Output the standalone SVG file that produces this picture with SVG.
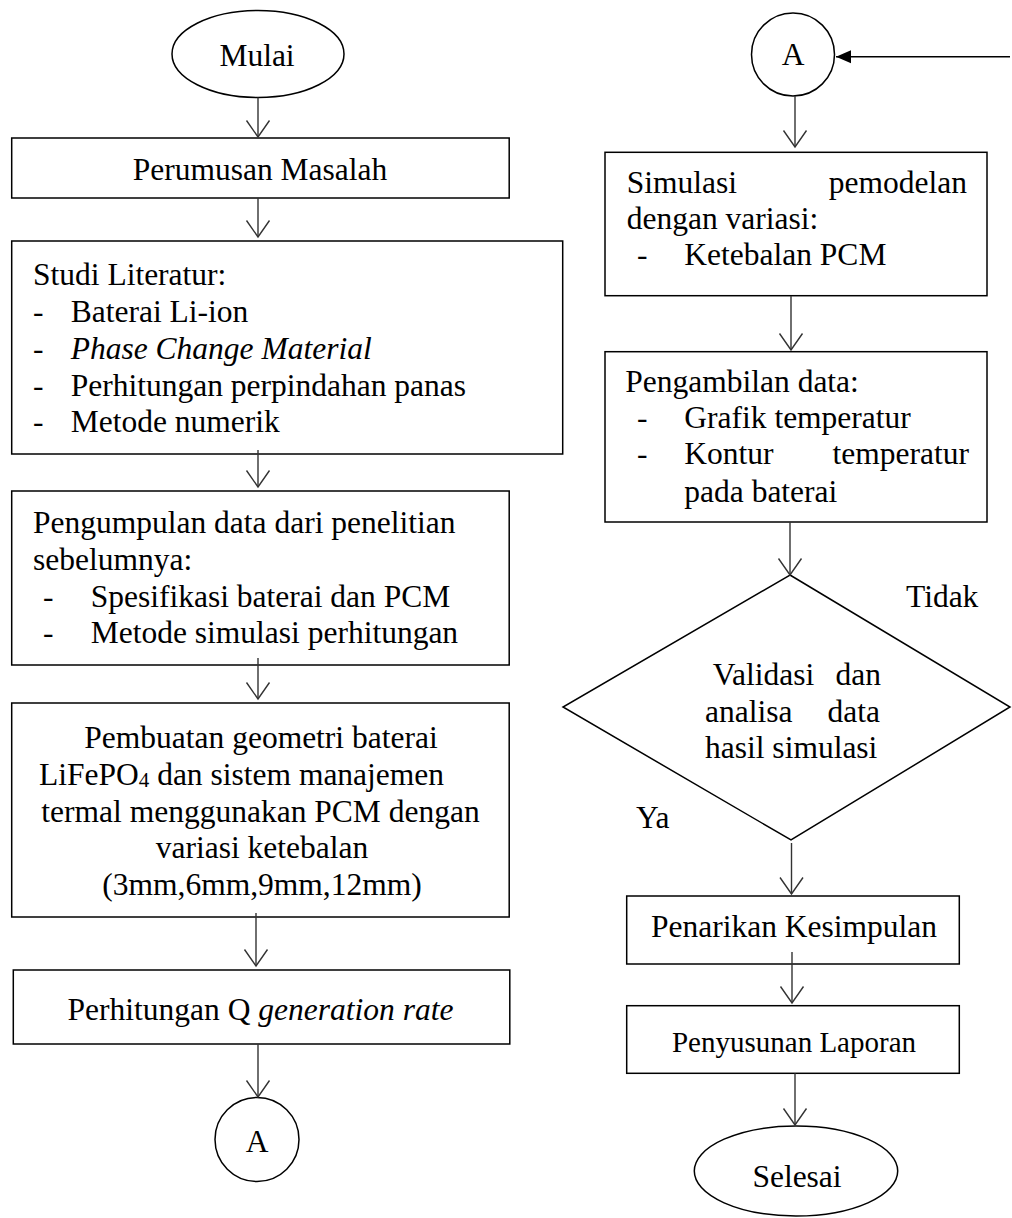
<svg xmlns="http://www.w3.org/2000/svg" width="1012" height="1218" viewBox="0 0 1012 1218">
<defs>
<marker id="open" viewBox="-18 -13 20 26" markerWidth="20" markerHeight="26" refX="0" refY="0" orient="auto" markerUnits="userSpaceOnUse">
<path d="M-16.5,-11.5 L0,0 L-16.5,11.5" fill="none" stroke="#333" stroke-width="1.4"/>
</marker>
<marker id="solid" viewBox="-16 -8 17 16" markerWidth="17" markerHeight="16" refX="0" refY="0" orient="auto" markerUnits="userSpaceOnUse">
<path d="M-15,-6.5 L0,0 L-15,6.5 Z" fill="#000"/>
</marker>
</defs>
<style>
.box{fill:#fff;stroke:#000;stroke-width:1.5}
.t{font-family:"Liberation Serif","Times New Roman",serif;font-size:31.5px;fill:#000}
.c{text-anchor:middle}
.e{text-anchor:end}
.i{font-style:italic}
.conn{stroke:#333;stroke-width:1.4;fill:none;marker-end:url(#open)}
.conns{stroke:#000;stroke-width:1.5;fill:none;marker-end:url(#solid)}
</style>
<rect width="1012" height="1218" fill="#fff"/>

<g id="mulai">
<ellipse class="box" cx="258" cy="54" rx="86" ry="43.5"/>
<text class="t c" x="257" y="66">Mulai</text>
</g>

<g id="perumusan">
<rect class="box" x="11.7" y="138" width="497.5" height="60"/>
<text class="t c" x="260" y="180">Perumusan Masalah</text>
</g>

<g id="studi">
<rect class="box" x="11.7" y="241" width="551" height="213"/>
<text class="t" x="33" y="285">Studi Literatur:</text>
<text class="t" x="33" y="322">-</text><text class="t" x="70.7" y="322">Baterai Li-ion</text>
<text class="t" x="33" y="359">-</text><text class="t i" x="70.7" y="359">Phase Change Material</text>
<text class="t" x="33" y="396">-</text><text class="t" x="70.7" y="396">Perhitungan perpindahan panas</text>
<text class="t" x="33" y="432">-</text><text class="t" x="70.7" y="432">Metode numerik</text>
</g>

<g id="pengumpulan">
<rect class="box" x="11.7" y="491" width="497.5" height="174"/>
<text class="t" x="33" y="533">Pengumpulan data dari penelitian</text>
<text class="t" x="33" y="570">sebelumnya:</text>
<text class="t" x="43" y="607">-</text><text class="t" x="90.7" y="607">Spesifikasi baterai dan PCM</text>
<text class="t" x="43" y="643">-</text><text class="t" x="90.7" y="643">Metode simulasi perhitungan</text>
</g>

<g id="pembuatan">
<rect class="box" x="11.7" y="703" width="497.5" height="214"/>
<text class="t c" x="261" y="748">Pembuatan geometri baterai</text>
<text class="t" x="39" y="785">LiFePO<tspan font-size="21" dy="2">4</tspan><tspan dy="-2"> dan sistem manajemen</tspan></text>
<text class="t c" x="260.5" y="822">termal menggunakan PCM dengan</text>
<text class="t c" x="262" y="858">variasi ketebalan</text>
<text class="t c" x="262" y="895">(3mm,6mm,9mm,12mm)</text>
</g>

<g id="perhitungan-q">
<rect class="box" x="13.3" y="970" width="496.5" height="74"/>
<text class="t c" x="260.5" y="1020">Perhitungan Q <tspan class="i">generation rate</tspan></text>
</g>

<g id="konektor-a1">
<circle class="box" cx="257" cy="1139.5" r="42"/>
<text class="t c" x="257" y="1152">A</text>
</g>

<g id="konektor-a2">
<circle class="box" cx="793" cy="54.5" r="41.5"/>
<text class="t c" x="793" y="65">A</text>
</g>

<g id="simulasi">
<rect class="box" x="605" y="152.3" width="382" height="143.4"/>
<text class="t" x="626.7" y="193">Simulasi</text><text class="t e" x="967" y="193">pemodelan</text>
<text class="t" x="626.7" y="229">dengan variasi:</text>
<text class="t" x="637" y="265">-</text><text class="t" x="684.3" y="265">Ketebalan PCM</text>
</g>

<g id="pengambilan">
<rect class="box" x="605" y="351.7" width="382" height="170.3"/>
<text class="t" x="625.3" y="391.7">Pengambilan data:</text>
<text class="t" x="637" y="427.7">-</text><text class="t" x="684.3" y="427.7">Grafik temperatur</text>
<text class="t" x="637" y="464.3">-</text><text class="t" x="684.3" y="464.3">Kontur</text><text class="t e" x="969" y="464.3">temperatur</text>
<text class="t" x="684.3" y="501.7">pada baterai</text>
</g>

<g id="validasi">
<polygon class="box" points="790,575 1010,707 791,840 563,707"/>
<text class="t" x="712.7" y="685">Validasi</text><text class="t e" x="881" y="685">dan</text>
<text class="t" x="705" y="722">analisa</text><text class="t e" x="880" y="722">data</text>
<text class="t" x="705" y="758.3">hasil simulasi</text>
</g>

<g id="label-tidak"><text class="t" x="906" y="607.3">Tidak</text></g>
<g id="label-ya"><text class="t" x="636" y="828.3">Ya</text></g>

<g id="penarikan">
<rect class="box" x="626.7" y="896" width="332.6" height="68"/>
<text class="t c" x="794" y="937.3">Penarikan Kesimpulan</text>
</g>

<g id="penyusunan">
<rect class="box" x="626.7" y="1005.7" width="332.6" height="67.6"/>
<text class="t c" x="794" y="1051.7" style="font-size:29px">Penyusunan Laporan</text>
</g>

<g id="selesai">
<ellipse class="box" cx="796" cy="1171" rx="101.7" ry="45"/>
<text class="t c" x="797" y="1186.7">Selesai</text>
</g>

<g id="connectors">
<path class="conn" d="M258,97.5 V137"/>
<path class="conn" d="M258,198 V237"/>
<path class="conn" d="M258,450 V487"/>
<path class="conn" d="M258,658 V699"/>
<path class="conn" d="M256,913 V966"/>
<path class="conn" d="M258,1044 V1097"/>
<path class="conns" d="M1010,56.7 H836"/>
<path class="conn" d="M795,96 V147"/>
<path class="conn" d="M791,296 V350"/>
<path class="conn" d="M790,522 V575"/>
<path class="conn" d="M791.5,843 V894"/>
<path class="conn" d="M792,952 V1003"/>
<path class="conn" d="M795,1073.3 V1125"/>
</g>
</svg>
